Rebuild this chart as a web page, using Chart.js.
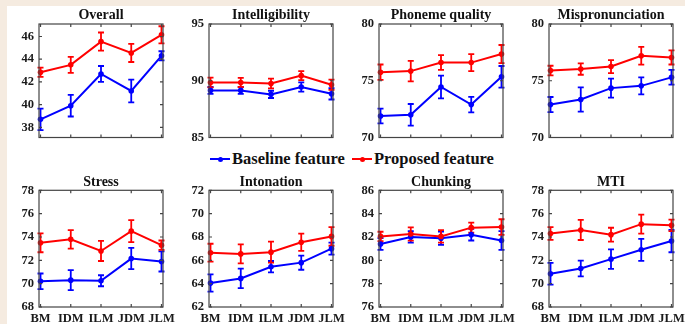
<!DOCTYPE html>
<html>
<head>
<meta charset="utf-8">
<script src="https://cdn.jsdelivr.net/npm/chart.js@4.4.0/dist/chart.umd.min.js"></script>
<style>
  html, body { margin: 0; padding: 0; }
  body { width: 685px; height: 324px; background: #f5ebe0; position: relative; overflow: hidden;
         font-family: "Liberation Serif", "Times New Roman", serif; }
  #sheet { position: absolute; left: 7px; top: 6px; right: 0; bottom: 0; background: #fff; }
  canvas { position: absolute; }
  .leg { position: absolute; top: 149px; font-weight: bold; font-size: 16.5px; line-height: 20px;
         white-space: nowrap; color: #111; }
  .mk { display: inline-block; position: relative; width: 20px; height: 20px; vertical-align: top; margin-right: 2px; }
  .mk::before { content: ""; position: absolute; left: 0; right: 0; top: 9px; height: 2px; background: var(--c); }
  .mk::after { content: ""; position: absolute; left: 7.5px; top: 7.5px; width: 5px; height: 5px;
               border-radius: 50%; background: var(--c); }
</style>
</head>
<body>
<div id="sheet"></div>
<div class="leg" style="left:210px"><span class="mk" style="--c:#0000ff"></span>Baseline feature</div>
<div class="leg" style="left:352px"><span class="mk" style="--c:#ff0000"></span>Proposed feature</div>

<script>
// x categories shared by every panel
const categories = ['BM', 'IDM', 'ILM', 'JDM', 'JLM'];

// means and error half-widths
const overallBaseline = [38.7, 39.9, 42.7, 41.2, 44.3];
const overallBaselineErr = [0.95, 0.95, 0.7, 1.0, 0.4];
const overallProposed = [42.85, 43.5, 45.55, 44.55, 46.15];
const overallProposedErr = [0.4, 0.7, 0.8, 0.8, 0.75];
const overallTicks = [38, 40, 42, 44, 46];

const intellBaseline = [89.15, 89.15, 88.8, 89.45, 88.85];
const intellBaselineErr = [0.3, 0.3, 0.32, 0.4, 0.5];
const intellProposed = [89.85, 89.85, 89.75, 90.45, 89.65];
const intellProposedErr = [0.43, 0.4, 0.43, 0.4, 0.45];
const intellTicks = [85, 90, 95];

const phonemeBaseline = [71.9, 72.0, 74.45, 72.9, 75.35];
const phonemeBaselineErr = [0.65, 0.95, 1.0, 0.68, 0.95];
const phonemeProposed = [75.75, 75.85, 76.6, 76.6, 77.35];
const phonemeProposedErr = [0.68, 0.9, 0.65, 0.75, 0.8];
const phonemeTicks = [70, 75, 80];

const mispronBaseline = [72.9, 73.35, 74.35, 74.55, 75.3];
const mispronBaselineErr = [0.67, 1.07, 0.84, 0.75, 0.65];
const mispronProposed = [75.9, 76.03, 76.25, 77.2, 77.05];
const mispronProposedErr = [0.42, 0.5, 0.57, 0.78, 0.62];
const mispronTicks = [70, 75, 80];

const stressBaseline = [70.2, 70.3, 70.25, 72.15, 71.9];
const stressBaselineErr = [0.67, 0.86, 0.47, 0.91, 0.86];
const stressProposed = [73.5, 73.8, 72.8, 74.5, 73.3];
const stressProposedErr = [0.81, 0.79, 0.86, 0.94, 0.4];
const stressTicks = [68, 70, 72, 74, 76, 78];

const intonBaseline = [64.05, 64.45, 65.45, 65.8, 67.0];
const intonBaselineErr = [0.74, 0.83, 0.49, 0.61, 0.51];
const intonProposed = [66.65, 66.55, 66.7, 67.55, 68.05];
const intonProposedErr = [0.77, 0.81, 0.9, 0.74, 0.8];
const intonTicks = [62, 64, 66, 68, 70, 72];

const chunkBaseline = [81.4, 82.0, 81.9, 82.2, 81.7];
const chunkBaselineErr = [0.5, 0.49, 0.57, 0.5, 0.8];
const chunkProposed = [82.05, 82.25, 82.05, 82.8, 82.85];
const chunkProposedErr = [0.4, 0.57, 0.54, 0.43, 0.67];
const chunkTicks = [76, 78, 80, 82, 84, 86];

const mtiBaseline = [70.85, 71.3, 72.1, 72.9, 73.65];
const mtiBaselineErr = [0.93, 0.67, 0.83, 0.94, 0.96];
const mtiProposed = [74.3, 74.6, 74.2, 75.1, 75.0];
const mtiProposedErr = [0.54, 0.86, 0.59, 0.81, 0.49];
const mtiTicks = [68, 70, 72, 74, 76, 78];

const panels = [
  { title: 'Overall', base: overallBaseline, baseErr: overallBaselineErr, prop: overallProposed, propErr: overallProposedErr, ticks: overallTicks, min: 37.1, max: 47.1 },
  { title: 'Intelligibility', base: intellBaseline, baseErr: intellBaselineErr, prop: intellProposed, propErr: intellProposedErr, ticks: intellTicks, min: 85, max: 95 },
  { title: 'Phoneme quality', base: phonemeBaseline, baseErr: phonemeBaselineErr, prop: phonemeProposed, propErr: phonemeProposedErr, ticks: phonemeTicks, min: 70, max: 80 },
  { title: 'Mispronunciation', base: mispronBaseline, baseErr: mispronBaselineErr, prop: mispronProposed, propErr: mispronProposedErr, ticks: mispronTicks, min: 70, max: 80 },
  { title: 'Stress', base: stressBaseline, baseErr: stressBaselineErr, prop: stressProposed, propErr: stressProposedErr, ticks: stressTicks, min: 68, max: 78 },
  { title: 'Intonation', base: intonBaseline, baseErr: intonBaselineErr, prop: intonProposed, propErr: intonProposedErr, ticks: intonTicks, min: 62, max: 72 },
  { title: 'Chunking', base: chunkBaseline, baseErr: chunkBaselineErr, prop: chunkProposed, propErr: chunkProposedErr, ticks: chunkTicks, min: 76, max: 86 },
  { title: 'MTI', base: mtiBaseline, baseErr: mtiBaselineErr, prop: mtiProposed, propErr: mtiProposedErr, ticks: mtiTicks, min: 68, max: 78 }
];

const FONT = '"Liberation Serif", "Times New Roman", serif';
const colLefts = [0, 170, 340, 510];

// error bars under the lines, box + inward ticks on top (matlab look)
const errorBox = {
  id: 'errorBox',
  beforeDatasetsDraw(chart) {
    const ctx = chart.ctx, ys = chart.scales.y;
    ctx.save();
    chart.data.datasets.forEach((ds, di) => {
      const meta = chart.getDatasetMeta(di);
      ctx.strokeStyle = ds.borderColor;
      ctx.lineWidth = 1.8;
      meta.data.forEach((pt, i) => {
        const v = ds.data[i].y, e = ds.errorBars[i];
        const t = ys.getPixelForValue(v + e);
        const b = ys.getPixelForValue(v - e);
        ctx.beginPath();
        ctx.moveTo(pt.x, t); ctx.lineTo(pt.x, b);
        ctx.moveTo(pt.x - 3, t); ctx.lineTo(pt.x + 3, t);
        ctx.moveTo(pt.x - 3, b); ctx.lineTo(pt.x + 3, b);
        ctx.stroke();
      });
    });
    ctx.restore();
  },
  afterDraw(chart) {
    const ctx = chart.ctx, a = chart.chartArea;
    const xs = chart.scales.x, ys = chart.scales.y;
    ctx.save();
    ctx.strokeStyle = '#444';
    ctx.lineWidth = 1.2;
    ctx.strokeRect(a.left, a.top, a.right - a.left, a.bottom - a.top);
    ctx.beginPath();
    xs.ticks.forEach(tk => {
      const x = xs.getPixelForValue(tk.value);
      ctx.moveTo(x, a.bottom); ctx.lineTo(x, a.bottom - 3);
      ctx.moveTo(x, a.top); ctx.lineTo(x, a.top + 3);
    });
    ys.ticks.forEach(tk => {
      const y = ys.getPixelForValue(tk.value);
      ctx.moveTo(a.left, y); ctx.lineTo(a.left + 3, y);
      ctx.moveTo(a.right, y); ctx.lineTo(a.right - 3, y);
    });
    ctx.stroke();
    ctx.restore();
  }
};

panels.forEach((p, k) => {
  const row = k < 4 ? 0 : 1;
  const cv = document.createElement('canvas');
  const w = 179, h = row === 0 ? 150 : 159;
  cv.width = w; cv.height = h;
  cv.style.left = colLefts[k % 4] + 'px';
  cv.style.top = (row === 0 ? 0 : 165) + 'px';
  cv.style.width = w + 'px'; cv.style.height = h + 'px';
  document.body.appendChild(cv);

  new Chart(cv, {
    type: 'line',
    data: {
      labels: categories,
      datasets: [
        {
          label: 'Baseline feature',
          data: p.base.map((v, i) => ({ x: i, y: v })),
          errorBars: p.baseErr,
          borderColor: '#0000ff', backgroundColor: '#0000ff',
          pointBackgroundColor: '#0000ff', borderWidth: 2,
          pointRadius: 2.8, pointBorderWidth: 0, clip: false, order: 1
        },
        {
          label: 'Proposed feature',
          data: p.prop.map((v, i) => ({ x: i, y: v })),
          errorBars: p.propErr,
          borderColor: '#ff0000', backgroundColor: '#ff0000',
          pointBackgroundColor: '#ff0000', borderWidth: 2,
          pointRadius: 2.8, pointBorderWidth: 0, clip: false, order: 0
        }
      ]
    },
    options: {
      responsive: false,
      animation: false,
      devicePixelRatio: 1,
      layout: { padding: { left: 0, right: 16, top: 0, bottom: 0 } },
      plugins: {
        legend: { display: false },
        tooltip: { enabled: false },
        title: {
          display: true, fullSize: false, text: p.title, color: '#111',
          font: { family: FONT, size: 14, weight: 'bold', lineHeight: 1.2 },
          padding: row === 0 ? { top: 6.5, bottom: 0.7 } : { top: 8.5, bottom: 0 }
        }
      },
      scales: {
        x: {
          type: 'linear', min: -0.05, max: 4.05,
          grid: { display: false, drawTicks: false }, border: { display: false },
          afterBuildTicks: s => { s.ticks = categories.map((c, i) => ({ value: i })); },
          ticks: {
            display: row === 1, autoSkip: false, maxRotation: 0, padding: 4, color: '#1a1a1a',
            font: { family: FONT, size: 12.5, weight: 'bold' },
            callback: v => categories[v]
          },
          afterFit: s => { s.height = row === 0 ? 10 : 17; s.paddingLeft = 0; s.paddingRight = 0; }
        },
        y: {
          min: p.min, max: p.max,
          grid: { display: false, drawTicks: false }, border: { display: false },
          afterBuildTicks: s => { s.ticks = p.ticks.map(v => ({ value: v })); },
          ticks: { padding: 5, color: '#1a1a1a', font: { family: FONT, size: 12.5, weight: 'bold' } },
          afterFit: s => { s.width = 39; }
        }
      }
    },
    plugins: [errorBox]
  });
});
</script>
</body>
</html>
